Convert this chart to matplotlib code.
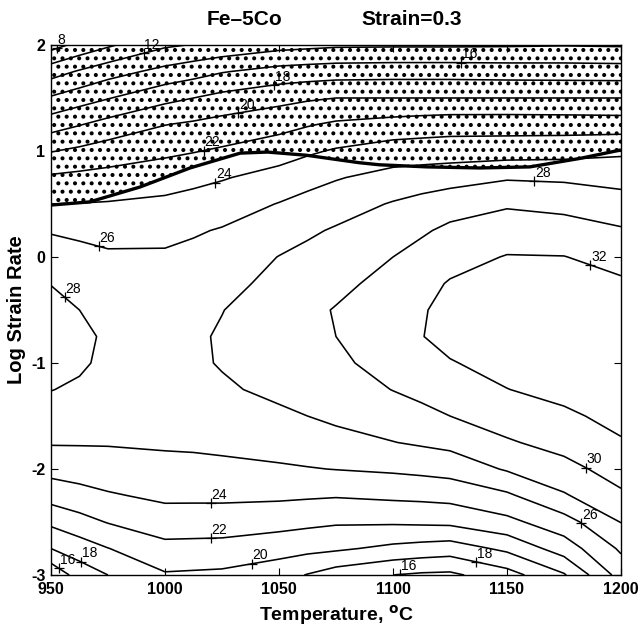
import numpy as np
import matplotlib
matplotlib.use('Agg')
import matplotlib.pyplot as plt

plt.rcParams['font.family'] = ['Liberation Sans Narrow', 'Liberation Sans', 'DejaVu Sans']
plt.rcParams['axes.unicode_minus'] = False
plt.rcParams['hatch.color'] = 'black'
plt.rcParams['hatch.linewidth'] = 1.7

# grid of the efficiency map: temperature (deg C) and log strain rate
temps = [950, 962.5, 975, 1000, 1012.5, 1025, 1050, 1062.5, 1075, 1100, 1112.5,
         1125, 1150, 1175, 1200]
log_rates = [2.0, 1.75, 1.5, 1.25, 1.0, 0.75, 0.5, 0.25, 0.0, -0.25, -0.5,
             -0.75, -1.0, -1.25, -1.5, -1.75, -2.0, -2.25, -2.5, -2.75, -3.0]

# efficiency (%) read per temperature, from log strain rate 2 down to -3
eff_950 = [7.2, 11.14, 14.22, 17.13, 19.9, 22.28, 24.0, 25.85, 26.92, 27.95, 28.6,
           28.95, 28.7, 28.05, 27.14, 26.16, 24.65, 22.8, 20.42, 18.0, 14.4]
eff_962 = [8.6, 12.2, 15.1, 17.9, 20.4, 22.5, 24.05, 25.6, 26.6, 27.45, 28.0,
           28.45, 28.3, 27.7, 26.95, 26.15, 24.9, 23.3, 21.3, 19.0, 16.9]
eff_975 = [9.7, 13.18, 15.9, 18.7, 20.92, 22.67, 24.14, 25.33, 26.3, 26.9, 27.35,
           27.7, 27.55, 27.2, 26.7, 26.15, 25.1, 23.8, 22.1, 19.95, 18.0]
eff_1000 = [11.7, 14.6, 17.45, 19.95, 21.6, 23.1, 24.43, 25.5, 26.25, 26.7, 27.05,
            27.28, 27.25, 27.0, 26.6, 26.25, 25.45, 24.4, 23.03, 21.45, 19.8]
eff_1012 = [12.1, 15.2, 18.0, 20.3, 21.9, 23.45, 24.75, 25.8, 26.5, 27.0, 27.45,
            27.7, 27.65, 27.3, 26.8, 26.3, 25.5, 24.4, 23.0, 21.4, 19.7]
eff_1025 = [12.5, 15.87, 18.6, 20.69, 22.25, 23.85, 25.07, 26.14, 26.75, 27.35, 27.95,
            28.2, 28.15, 27.7, 27.05, 26.4, 25.6, 24.4, 23.0, 21.33, 19.6]
eff_1050 = [13.3, 16.7, 19.4, 21.33, 23.1, 24.72, 26.08, 27.08, 28.05, 28.6, 29.1,
            29.3, 29.1, 28.5, 27.6, 26.75, 25.77, 24.35, 22.7, 20.8, 18.8]
eff_1062 = [13.5, 16.9, 19.75, 21.85, 23.7, 25.3, 26.65, 27.7, 28.5, 29.1, 29.6,
            29.65, 29.35, 28.8, 28.0, 27.05, 25.9, 24.25, 22.45, 20.55, 17.9]
eff_1075 = [13.7, 17.05, 20.0, 22.3, 24.2, 25.85, 27.13, 28.2, 28.9, 29.55, 30.1,
            30.0, 29.5, 29.0, 28.4, 27.33, 26.05, 24.15, 22.23, 20.3, 17.0]
eff_1100 = [13.75, 17.14, 20.0, 22.78, 24.88, 26.7, 28.15, 29.07, 30.0, 30.6, 31.15,
            31.4, 31.0, 30.05, 29.0, 27.95, 26.3, 24.4, 22.26, 19.54, 16.0]
eff_1112 = [13.75, 17.14, 20.0, 23.0, 24.95, 26.95, 28.65, 29.75, 30.65, 31.4, 31.85,
            31.95, 31.45, 30.5, 29.5, 28.25, 26.5, 24.5, 22.35, 19.25, 15.7]
eff_1125 = [13.75, 17.14, 20.0, 23.18, 25.0, 27.2, 29.15, 30.4, 31.3, 32.15, 32.5,
            32.5, 31.9, 30.9, 30.0, 28.57, 26.75, 24.67, 22.45, 19.0, 15.6]
eff_1150 = [13.8, 17.05, 20.0, 23.2, 25.06, 27.8, 29.78, 31.0, 32.1, 32.6, 32.9,
            32.9, 32.55, 31.97, 30.9, 29.8, 28.2, 25.67, 23.47, 20.43, 17.2]
eff_1175 = [13.9, 17.0, 20.0, 23.14, 25.23, 27.67, 29.47, 30.8, 32.05, 32.6, 33.0,
            33.1, 33.0, 32.5, 31.7, 30.65, 29.4, 27.8, 25.2, 22.95, 19.8]
eff_1200 = [13.8, 16.94, 20.0, 23.04, 25.65, 27.33, 28.82, 30.2, 31.28, 32.3, 32.9,
            33.2, 33.2, 33.0, 32.5, 31.85, 30.8, 29.7, 28.06, 26.3, 24.8]

# onset of flow instability (log strain rate) vs temperature
unstable_T = [950, 967, 989, 1011, 1033, 1045, 1062, 1085, 1094, 1115, 1138, 1160, 1182, 1200]
unstable_lsr = [0.49, 0.52, 0.66, 0.84, 0.98, 0.99, 0.96, 0.89, 0.87, 0.85, 0.84, 0.85, 0.93, 1.01]

levels = [8, 10, 12, 14, 16, 18, 20, 22, 24, 26, 28, 30, 32]

# where the contour labels sit (level, T, log strain rate)
label_spots = [(8, 953, 1.95), (12, 990, 1.97), (16, 1130, 1.86), (18, 1048, 1.62),
               (20, 1032, 1.37), (22, 1017, 1.0), (24, 1022, 0.70), (26, 971, 0.11),
               (28, 956, -0.38), (28, 1162, 0.73), (32, 1187, -0.05), (30, 1185, -1.98),
               (26, 1183, -2.50), (24, 1020, -2.35), (22, 1020, -2.68), (20, 1038, -2.88),
               (18, 963, -2.88), (16, 953, -2.95), (18, 1137, -2.84), (16, 1103, -2.98)]

eta = np.column_stack([eff_950, eff_962, eff_975, eff_1000, eff_1012, eff_1025,
                       eff_1050, eff_1062, eff_1075, eff_1100, eff_1112, eff_1125,
                       eff_1150, eff_1175, eff_1200])
rates = np.array(log_rates)[::-1]
eta = eta[::-1]

fig = plt.figure(figsize=(6.39, 6.31), dpi=100)
ax = fig.add_axes([0.0798, 0.0887, 0.892, 0.840])

ax.fill_between(unstable_T, unstable_lsr, 2.0, facecolor='none', edgecolor='black',
                hatch='..', linewidth=0)
ax.plot(unstable_T, unstable_lsr, color='black', lw=2.4, solid_capstyle='butt')

cs = ax.contour(temps, rates, eta, levels=levels, colors='black', linewidths=1.15)

paths = cs.get_paths()
for lev, tx, ty in label_spots:
    p = paths[levels.index(lev)]
    v = p.vertices
    if len(v) < 2:
        continue
    a, b = v[:-1], v[1:]
    ok = np.ones(len(a), bool)
    if p.codes is not None:
        ok = p.codes[1:] != 1
    sx, sy = 250.0, 5.0
    ax_ = (a[:, 0] - tx) / sx
    ay_ = (a[:, 1] - ty) / sy
    dx = (b[:, 0] - a[:, 0]) / sx
    dy = (b[:, 1] - a[:, 1]) / sy
    L = dx * dx + dy * dy
    L[L == 0] = 1e-12
    t = np.clip(-(ax_ * dx + ay_ * dy) / L, 0, 1)
    qx = ax_ + t * dx
    qy = ay_ + t * dy
    d = qx * qx + qy * qy
    d[~ok] = np.inf
    i = np.argmin(d)
    px = a[i, 0] + t[i] * (b[i, 0] - a[i, 0])
    py = a[i, 1] + t[i] * (b[i, 1] - a[i, 1])
    ax.plot(px, py, '+', color='black', ms=7, mew=0.9)
    ax.annotate(str(lev), (px, py), xytext=(0.5, 1), textcoords='offset points',
                fontsize=10, ha='left', va='bottom')

ax.set_xlim(950, 1200)
ax.set_ylim(-3, 2)
ax.set_xticks([950, 1000, 1050, 1100, 1150, 1200])
ax.set_yticks([-3, -2, -1, 0, 1, 2])
ax.tick_params(direction='in', length=5, width=0.8, top=True, right=True,
               labelsize=11.5)
ax.tick_params(axis='x', pad=5)
ax.tick_params(axis='y', pad=4)
for lab in ax.get_xticklabels() + ax.get_yticklabels():
    lab.set_fontweight('bold')
for s in ax.spines.values():
    s.set_linewidth(1.0)

ax.set_xlabel('Temperature, $^{\\mathbf{o}}$C', fontsize=14, fontweight='bold', labelpad=4)
ax.set_ylabel('Log Strain Rate', fontsize=14.5, fontweight='bold', labelpad=4)
ax.text(0.34, 1.03, 'Fe\u20135Co', transform=ax.transAxes, ha='center', va='bottom',
        fontsize=15, fontweight='bold')
ax.text(0.633, 1.03, 'Strain=0.3', transform=ax.transAxes, ha='center', va='bottom',
        fontsize=15, fontweight='bold')

fig.savefig('out.png', dpi=100)
